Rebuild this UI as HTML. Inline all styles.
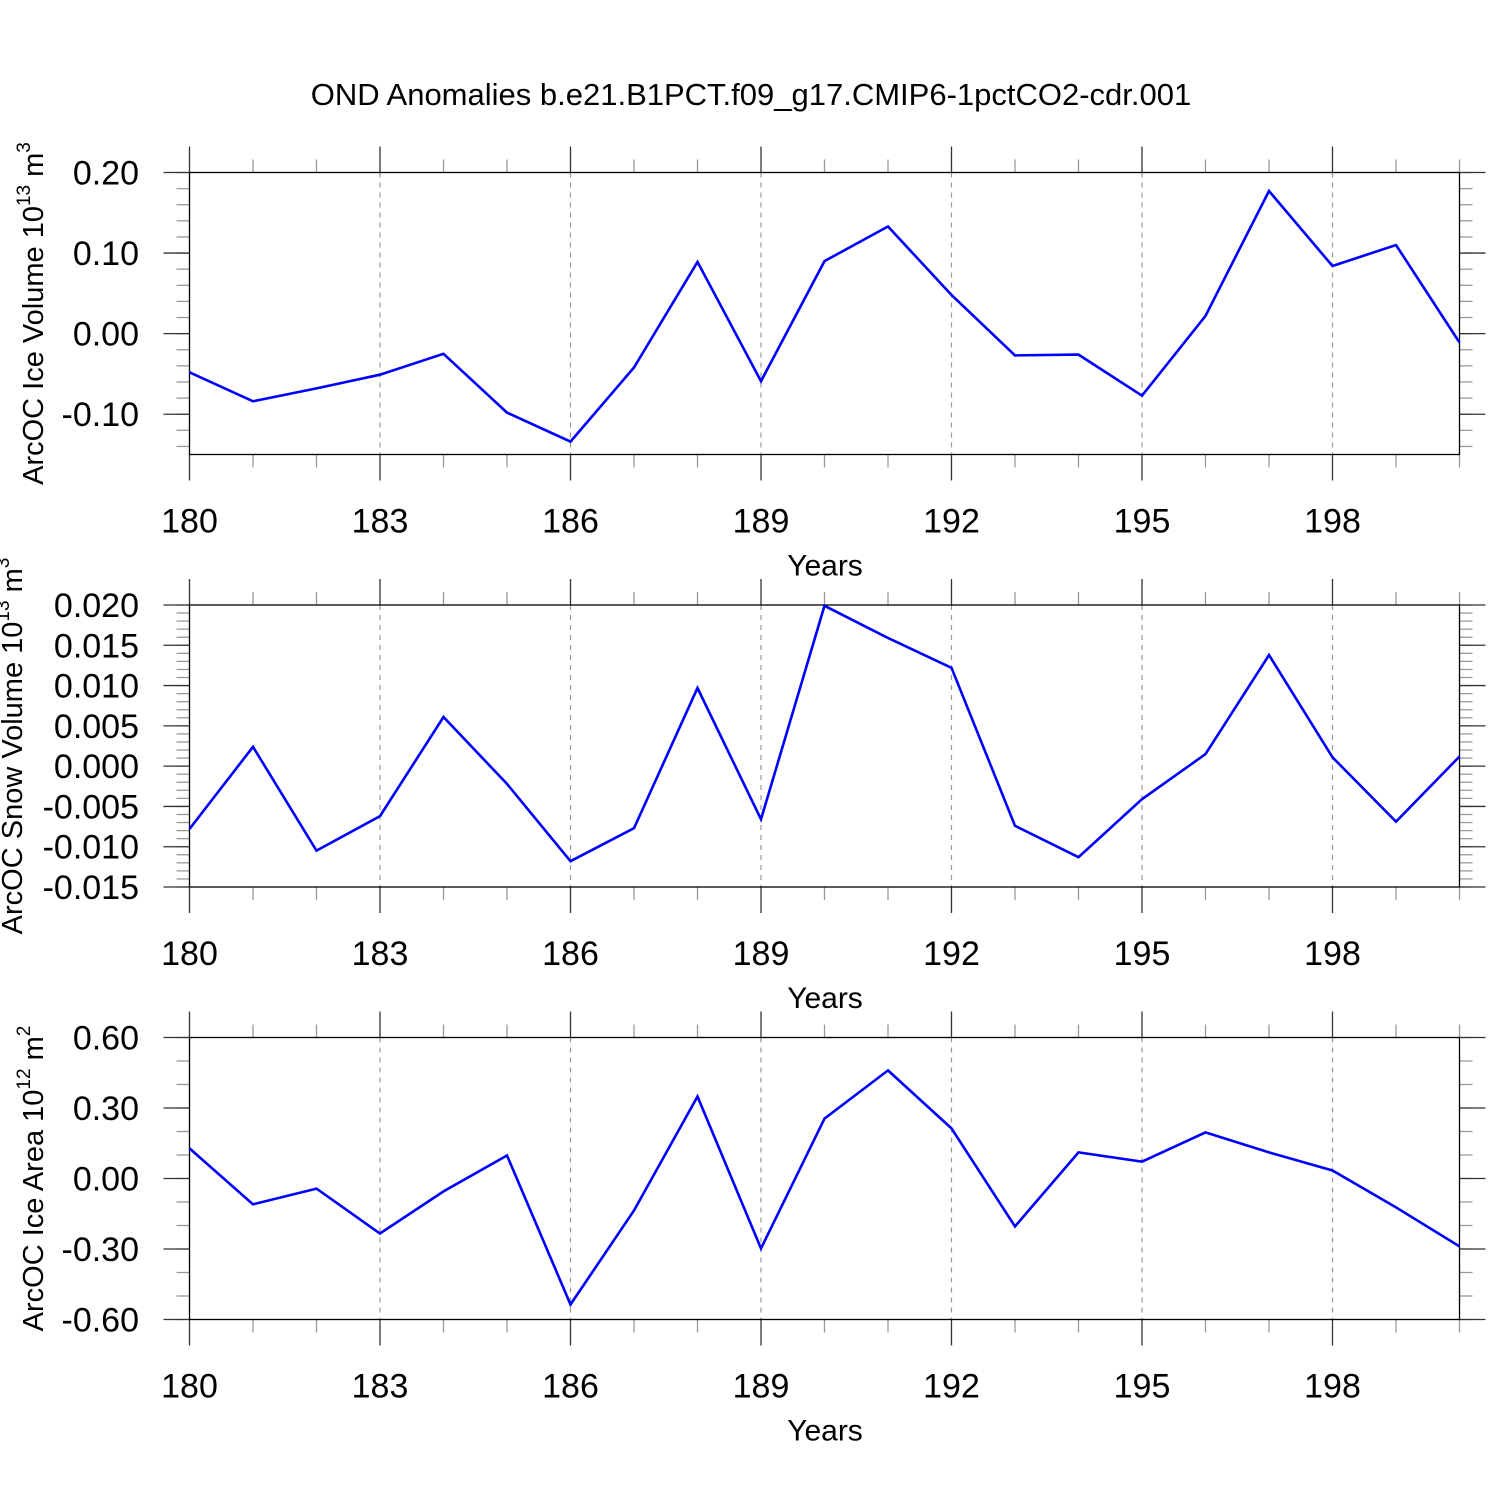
<!DOCTYPE html>
<html><head><meta charset="utf-8"><style>
html,body{margin:0;padding:0;background:#fff;}
svg{display:block;font-family:"Liberation Sans",sans-serif;}
</style></head><body>
<svg id="chart" width="1500" height="1500" viewBox="0 0 1500 1500" xmlns="http://www.w3.org/2000/svg">
<rect width="1500" height="1500" fill="#fff"/>
<text x="751" y="105" font-size="31" text-anchor="middle">OND Anomalies b.e21.B1PCT.f09_g17.CMIP6-1pctCO2-cdr.001</text>
</svg>
<script>
const years = [180,181,182,183,184,185,186,187,188,189,190,191,192,193,194,195,196,197,198,199,200];
const iceVolume = [-0.048,-0.084,-0.068,-0.051,-0.025,-0.098,-0.134,-0.042,0.089,-0.059,0.090,0.133,0.048,-0.027,-0.026,-0.077,0.022,0.177,0.084,0.110,-0.011];
const snowVolume = [-0.0078,0.0024,-0.0105,-0.0062,0.0061,-0.0022,-0.0118,-0.0077,0.0097,-0.0066,0.0199,0.0159,0.0122,-0.0074,-0.0113,-0.0041,0.0015,0.0138,0.0011,-0.0069,0.0012];
const iceArea = [0.128,-0.110,-0.043,-0.234,-0.055,0.098,-0.536,-0.136,0.349,-0.298,0.255,0.460,0.213,-0.204,0.111,0.072,0.196,0.111,0.034,-0.123,-0.289];
const xMajorTicks = [180,183,186,189,192,195,198];
const iceVolumeTicks = [0.20,0.10,0.00,-0.10];
const iceVolumeLabels = ["0.20","0.10","0.00","-0.10"];
const snowVolumeTicks = [0.020,0.015,0.010,0.005,0.000,-0.005,-0.010,-0.015];
const snowVolumeLabels = ["0.020","0.015","0.010","0.005","0.000","-0.005","-0.010","-0.015"];
const iceAreaTicks = [0.6,0.3,0,-0.3,-0.6];
const iceAreaLabels = ["0.60","0.30","0.00","-0.30","-0.60"];

const NS = "http://www.w3.org/2000/svg";
const svg = document.getElementById('chart');
function mk(tag, attrs, parent){
  const e = document.createElementNS(NS, tag);
  for (const k in attrs) e.setAttribute(k, attrs[k]);
  (parent||svg).appendChild(e);
  return e;
}
const X0 = 189.5, X1 = 1459.5, XMIN = 180, XMAX = 200;
function xs(v){ return X0 + (v - XMIN) / (XMAX - XMIN) * (X1 - X0); }

function panel(cfg){
  const g = mk('g', {});
  
  
  const top = cfg.top, bot = cfg.top + 282;
  const ys = v => top + (cfg.ymax - v) / (cfg.ymax - cfg.ymin) * (bot - top);
  xMajorTicks.forEach(t => {
    if (t === XMIN) return;
    const l = mk('line', {x1:xs(t), x2:xs(t), y1:top, y2:bot, stroke:'#999', 'stroke-width':1.2, 'stroke-dasharray':'5,5'}, g);
    
    
  });
  years.forEach(t => {
    const major = xMajorTicks.includes(t);
    const len = major ? 26 : 13;
    mk('line', {x1:xs(t), x2:xs(t), y1:top-len, y2:top, stroke: major?'#333':'#999', 'stroke-width':1.3}, g);
    mk('line', {x1:xs(t), x2:xs(t), y1:bot, y2:bot+len, stroke: major?'#333':'#999', 'stroke-width':1.3}, g);
  });
  // minor y ticks aligned to major ticks, clipped to range
  const base = cfg.ticks[0];
  const kmin = Math.ceil((cfg.ymin - base) / cfg.minor - 1e-6);
  const kmax = Math.floor((cfg.ymax - base) / cfg.minor + 1e-6);
  for (let k = kmin; k <= kmax; k++){
    const y = ys(base + k * cfg.minor);
    mk('line', {x1:X0-13, x2:X0, y1:y, y2:y, stroke:'#999', 'stroke-width':1.3}, g);
    mk('line', {x1:X1, x2:X1+13, y1:y, y2:y, stroke:'#999', 'stroke-width':1.3}, g);
  }
  cfg.ticks.forEach((v, i) => {
    const y = ys(v);
    mk('line', {x1:X0-26, x2:X0, y1:y, y2:y, stroke:'#333', 'stroke-width':1.3}, g);
    mk('line', {x1:X1, x2:X1+26, y1:y, y2:y, stroke:'#333', 'stroke-width':1.3}, g);
    const t = mk('text', {x:139, y:y+12, 'font-size':34, 'text-anchor':'end'}, g);
    
    
    t.textContent = cfg.labels[i];
  });
  const f = mk('rect', {x:X0, y:top, width:X1-X0, height:bot-top, fill:'none', stroke:'#000', 'stroke-width':1.3}, g);
  
  
  xMajorTicks.forEach(t => {
    const tx = mk('text', {x:xs(t), y:bot+78, 'font-size':34, 'text-anchor':'middle'}, g);
    
    
    tx.textContent = String(t);
  });
  const xt = mk('text', {x:825, y:bot+121, 'font-size':30, 'text-anchor':'middle'}, g);
  
  
  xt.textContent = 'Years';
  const cy = (top + bot) / 2;
  const yt = mk('text', {x:0, y:0, 'font-size':29, 'text-anchor':'middle', transform:`translate(${cfg.titleX},${cy}) rotate(-90)`}, g);
  
  
  yt.innerHTML = cfg.title + ' 10<tspan font-size="19" dy="-13">' + cfg.exp + '</tspan><tspan dy="13"> m</tspan><tspan font-size="19" dy="-13">' + cfg.unitExp + '</tspan>';
  const pts = years.map((yr, i) => xs(yr).toFixed(1) + ',' + ys(cfg.data[i]).toFixed(1)).join(' ');
  const p = mk('polyline', {points:pts, fill:'none', stroke:'#0000ff', 'stroke-width':2.6, 'stroke-linejoin':'miter'}, g);
  
  
}
panel({name:'ice-volume-panel', top:172.5, ymin:-0.15, ymax:0.20, minor:0.02, ticks:iceVolumeTicks, labels:iceVolumeLabels, data:iceVolume, title:'ArcOC Ice Volume', exp:'13', unitExp:'3', titleX:43});
panel({name:'snow-volume-panel', top:605, ymin:-0.015, ymax:0.020, minor:0.001, ticks:snowVolumeTicks, labels:snowVolumeLabels, data:snowVolume, title:'ArcOC Snow Volume', exp:'13', unitExp:'3', titleX:22});
panel({name:'ice-area-panel', top:1037.5, ymin:-0.6, ymax:0.6, minor:0.1, ticks:iceAreaTicks, labels:iceAreaLabels, data:iceArea, title:'ArcOC Ice Area', exp:'12', unitExp:'2', titleX:43});
</script>
</body></html>
